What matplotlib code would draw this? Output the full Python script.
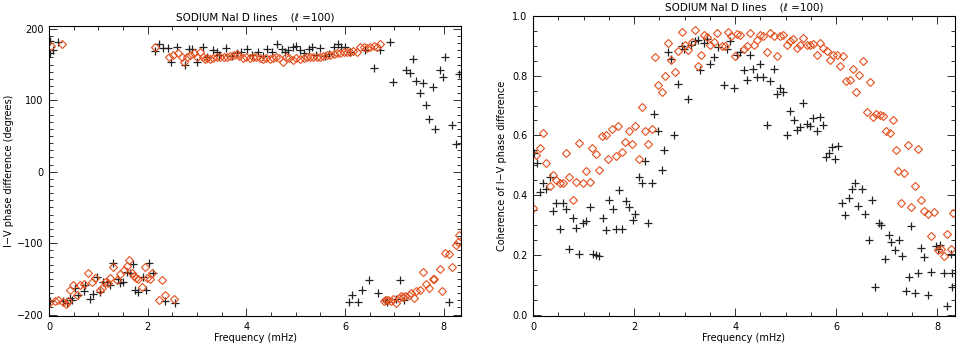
import numpy as np
import matplotlib.pyplot as plt
from matplotlib.ticker import MultipleLocator

# I-V phase difference (degrees), crosses
lp_cross_f = [0.02, 0.03, 0.09, 0.19,
              0.02, 0.29, 0.36, 0.43, 0.46, 0.53, 0.59, 0.70, 0.73, 0.83, 0.90, 0.97, 1.03, 1.10, 1.18, 1.24,
              1.30, 1.39, 1.44, 1.49, 1.58, 1.64, 1.71, 1.74, 1.81, 1.91, 1.97, 2.03, 2.10, 2.35, 2.56,
              2.15, 2.22, 2.31, 2.42, 2.47, 2.60, 2.76, 2.83, 2.89, 3.00, 3.13, 3.21, 3.32, 3.40, 3.45, 3.59,
              3.71, 3.81, 3.89, 4.01, 4.11, 4.23, 4.33, 4.42, 4.52, 4.63, 4.72, 4.79, 4.85, 4.94, 5.01, 5.09,
              5.17, 5.26, 5.33, 5.42, 5.50, 5.60, 5.67, 5.77, 5.85, 5.92, 6.00, 6.11, 6.41, 6.59, 6.71,
              6.92, 6.98, 7.24, 7.31, 7.37, 7.44, 7.51, 7.58, 7.65, 7.71, 7.78, 7.83, 7.92, 7.99, 8.03, 8.17,
              8.24, 8.30,
              6.07, 6.14, 6.27, 6.34, 6.48, 6.66, 6.80, 6.86, 7.04, 7.12, 7.19, 8.10]
lp_cross_deg = [183, 166, 171, 181,
                -181, -181, -184, -177, -180, -163, -172, -167, -158, -178, -171, -147, -169, -154, -155, -159,
                -128, -150, -156, -155, -140, -142, -129, -165, -169, -147, -165, -128, -142, -181, -184,
                169, 179, 173, 173, 153, 175, 150, 172, 172, 153, 175, 161, 170, 168, 164, 173,
                162, 166, 167, 172, 164, 168, 162, 172, 168, 179, 172, 167, 170, 175, 176, 170,
                166, 172, 174, 164, 173, 162, 165, 175, 179, 175, 175, 167, 170, 145, 170,
                181, 125, 142, 138, 158, 127, 110, 124, 93, 74, 119, 60, 142, 133, 160, 65,
                39, 137,
                -183, -173, -183, -166, -151, -170, -180, -183, -178, -151, -180, -183]

# I-V phase difference (degrees), diamonds
lp_diam_f = [0.05, 0.26,
             0.00, 0.12, 0.19, 0.29, 0.34, 0.39, 0.43, 0.49, 0.56, 0.63, 0.70, 0.80, 0.87, 0.93, 1.03, 1.07,
             1.14, 1.20, 1.24, 1.30, 1.37, 1.43, 1.51, 1.58, 1.63, 1.68, 1.72, 1.76, 1.81, 1.88, 1.95, 1.99,
             2.05, 2.08, 2.22, 2.29, 2.35, 2.54,
             2.15, 2.44, 2.52, 2.62, 2.69, 2.74, 2.79, 2.86, 2.93, 3.00, 3.06, 3.12, 3.16, 3.21, 3.27, 3.33,
             3.40, 3.47, 3.54, 3.60, 3.67, 3.74, 3.81, 3.86, 3.93, 4.00, 4.08, 4.13, 4.20, 4.27, 4.33, 4.40,
             4.47, 4.54, 4.60, 4.67, 4.75, 4.81, 4.87, 4.94, 5.01, 5.09, 5.16, 5.23, 5.29, 5.36, 5.43, 5.50,
             5.56, 5.63, 5.70, 5.77, 5.84, 5.90, 5.97, 6.04, 6.11, 6.17, 6.24, 6.31, 6.38, 6.44, 6.51, 6.58,
             6.65, 6.71,
             6.78, 6.84, 6.88, 6.93, 6.98, 7.04, 7.09, 7.13, 7.17, 7.22, 7.29, 7.34, 7.39, 7.44, 7.51, 7.58,
             7.65, 7.71, 7.78, 7.81, 7.92, 7.97, 8.03, 8.10, 8.17, 8.24, 8.28, 8.31]
lp_diam_deg = [176, 179,
               -184, -181, -179, -183, -185, -181, -165, -158, -172, -158, -157, -142, -154, -149, -165, -163,
               -154, -156, -149, -133, -151, -143, -137, -132, -124, -142, -146, -149, -150, -161, -133, -149,
               -150, -142, -180, -152, -172, -178,
               175, 160, 164, 166, 160, 154, 160, 164, 166, 160, 168, 161, 158, 159, 158, 159,
               160, 161, 160, 161, 162, 164, 165, 162, 159, 160, 159, 160, 161, 159, 158, 159,
               158, 159, 160, 159, 154, 160, 159, 156, 159, 158, 159, 160, 161, 160, 161, 161,
               162, 164, 164, 165, 166, 166, 167, 167, 167, 169, 168, 174, 175, 173, 175, 176,
               175, 179,
               -181, -180, -179, -181, -178, -184, -177, -174, -175, -174, -172, -170, -177, -167, -165, -140,
               -157, -163, -150, -150, -136, -167, -114, -115, -133, -102, -99, -88]

# coherence, crosses
rc_cross_f = [0.01, 0.07, 0.13, 0.20, 0.26, 0.33, 0.39, 0.46, 0.53, 0.59, 0.66, 0.72, 0.79, 0.85, 0.92, 0.98,
              1.05, 1.12, 1.18, 1.25, 1.31, 1.38, 1.44, 1.51, 1.58, 1.64, 1.71, 1.77, 1.84, 1.90, 1.97, 2.02,
              2.10, 2.15, 2.22, 2.28, 2.35, 2.40, 2.48, 2.55, 2.60, 2.68, 2.74, 2.79, 2.87, 2.94, 2.99, 3.07,
              3.12, 3.20, 3.27, 3.31, 3.38, 3.45, 3.51, 3.58, 3.66, 3.77, 3.84, 3.90, 3.97, 4.03, 4.10, 4.17,
              4.23, 4.30, 4.36, 4.43, 4.49, 4.56, 4.63, 4.69, 4.76, 4.82, 4.89, 4.95, 5.02, 5.09, 5.16, 5.22,
              5.29, 5.35, 5.42, 5.48, 5.55, 5.61, 5.68, 5.74, 5.79, 5.85, 5.91, 5.97, 6.04, 6.12, 6.17, 6.25,
              6.31, 6.37, 6.44, 6.51, 6.57, 6.64, 6.70, 6.77, 6.84, 6.89, 6.97, 7.04, 7.09, 7.17, 7.24, 7.30,
              7.38, 7.43, 7.48, 7.56, 7.62, 7.68, 7.74, 7.82, 7.87, 7.97, 8.01, 8.05, 8.13, 8.20, 8.28, 8.30,
              8.30]
rc_cross_coh = [0.542, 0.508, 0.411, 0.441, 0.419, 0.459, 0.347, 0.374, 0.285, 0.374, 0.355, 0.221, 0.322,
                0.291, 0.204, 0.307, 0.314, 0.359, 0.204, 0.198, 0.195, 0.322, 0.282, 0.383, 0.355, 0.288,
                0.417, 0.288, 0.381, 0.361, 0.318, 0.338, 0.462, 0.441, 0.515, 0.305, 0.439, 0.672, 0.616,
                0.484, 0.551, 0.878, 0.856, 0.602, 0.773, 0.901, 0.890, 0.722, 0.904, 0.915, 0.918, 0.820,
                0.908, 0.923, 0.840, 0.863, 0.896, 0.770, 0.890, 0.915, 0.760, 0.871, 0.878, 0.818, 0.786,
                0.871, 0.822, 0.796, 0.840, 0.796, 0.635, 0.781, 0.822, 0.739, 0.760, 0.744, 0.602, 0.683,
                0.652, 0.618, 0.627, 0.710, 0.639, 0.632, 0.658, 0.616, 0.661, 0.635, 0.527, 0.540, 0.560,
                0.522, 0.565, 0.374, 0.333, 0.389, 0.422, 0.439, 0.363, 0.422, 0.336, 0.249, 0.385, 0.092,
                0.307, 0.299, 0.187, 0.266, 0.243, 0.217, 0.251, 0.195, 0.078, 0.125, 0.296, 0.072, 0.139,
                0.224, 0.193, 0.067, 0.142, 0.229, 0.220, 0.232, 0.139, 0.030, 0.204, 0.139, 0.092]

# coherence, diamonds
rc_diam_f = [0.00, 0.05, 0.13, 0.20, 0.26, 0.33, 0.39, 0.46, 0.53, 0.59, 0.66, 0.72, 0.79, 0.85, 0.92, 0.98,
             1.05, 1.12, 1.17, 1.25, 1.31, 1.37, 1.44, 1.49, 1.56, 1.64, 1.69, 1.76, 1.82, 1.89, 1.96, 2.02,
             2.09, 2.15, 2.22, 2.28, 2.35, 2.42, 2.48, 2.55, 2.61, 2.68, 2.74, 2.81, 2.87, 2.94, 3.01, 3.07,
             3.14, 3.20, 3.27, 3.33, 3.38, 3.45, 3.51, 3.58, 3.64, 3.73, 3.79, 3.86, 3.92, 3.99, 4.04, 4.10,
             4.17, 4.24, 4.30, 4.37, 4.43, 4.50, 4.56, 4.63, 4.69, 4.76, 4.82, 4.89, 4.95, 5.02, 5.09, 5.15,
             5.22, 5.29, 5.35, 5.42, 5.48, 5.55, 5.61, 5.68, 5.74, 5.81, 5.88, 5.94, 6.01, 6.07, 6.14, 6.20,
             6.27, 6.33, 6.40, 6.46, 6.53, 6.60, 6.66, 6.73, 6.79, 6.86, 6.92, 6.99, 7.06, 7.12, 7.19, 7.22,
             7.28, 7.35, 7.42, 7.48, 7.55, 7.61, 7.68, 7.74, 7.81, 7.87, 7.94, 8.01, 8.07, 8.14, 8.20, 8.27,
             8.32]
rc_diam_coh = [0.356, 0.534, 0.557, 0.609, 0.506, 0.430, 0.467, 0.452, 0.439, 0.441, 0.540, 0.462, 0.385,
               0.445, 0.574, 0.439, 0.482, 0.445, 0.557, 0.538, 0.484, 0.598, 0.602, 0.520, 0.623, 0.531,
               0.632, 0.545, 0.579, 0.616, 0.571, 0.632, 0.520, 0.695, 0.616, 0.571, 0.620, 0.863, 0.770,
               0.747, 0.798, 0.908, 0.851, 0.814, 0.882, 0.946, 0.904, 0.885, 0.912, 0.952, 0.831, 0.871,
               0.938, 0.930, 0.904, 0.912, 0.944, 0.898, 0.900, 0.946, 0.932, 0.867, 0.941, 0.938, 0.890,
               0.901, 0.943, 0.904, 0.921, 0.938, 0.932, 0.880, 0.943, 0.932, 0.865, 0.934, 0.938, 0.904,
               0.915, 0.923, 0.893, 0.904, 0.926, 0.904, 0.904, 0.907, 0.871, 0.910, 0.893, 0.882, 0.854,
               0.871, 0.871, 0.831, 0.865, 0.781, 0.786, 0.822, 0.747, 0.803, 0.848, 0.677, 0.778, 0.661,
               0.672, 0.669, 0.666, 0.616, 0.609, 0.650, 0.551, 0.482, 0.372, 0.473, 0.568, 0.361, 0.430,
               0.553, 0.383, 0.346, 0.336, 0.263, 0.344, 0.215, 0.218, 0.196, 0.271, 0.220, 0.340]

title = "SODIUM NaI D lines    (\u2113 =100)"
cross_col = "#222222"
diam_col = "#e4501e"

plt.rcParams["font.family"] = "DejaVu Sans"
plt.rcParams["font.size"] = 7
plt.rcParams["axes.linewidth"] = 0.8

fig = plt.figure(figsize=(9.57, 3.49), dpi=100)
ax1 = fig.add_axes([49 / 957, 1 - 316 / 349, 412 / 957, 290 / 349])
ax2 = fig.add_axes([533 / 957, 1 - 316 / 349, 422 / 957, 300 / 349])

for ax, xc, yc, xd, yd in [(ax1, lp_cross_f, lp_cross_deg, lp_diam_f, lp_diam_deg),
                           (ax2, rc_cross_f, rc_cross_coh, rc_diam_f, rc_diam_coh)]:
    ax.plot(xc, yc, ls="none", marker="+", ms=6, mew=0.9, color=cross_col)
    ax.plot(xd, yd, ls="none", marker="D", ms=4, mew=0.8, mfc="none", mec=diam_col)
    ax.set_xlim(0, 8.35)
    ax.xaxis.set_major_locator(MultipleLocator(2))
    ax.xaxis.set_minor_locator(MultipleLocator(0.5))
    ax.tick_params(which="both", direction="in", top=True, right=True, width=0.7, color="#333333")
    ax.tick_params(which="major", length=6, pad=4)
    ax.tick_params(which="minor", length=3)
    ax.set_xlabel("Frequency (mHz)", labelpad=1)
    ax.set_title(title, pad=4, fontsize=7.5)

ax1.set_ylim(-202, 204)
ax1.yaxis.set_major_locator(MultipleLocator(100))
ax1.yaxis.set_minor_locator(MultipleLocator(10))
ax1.set_ylabel("I\u2212V phase difference (degrees)", labelpad=2)

ax2.set_ylim(-0.005, 1.0)
ax2.yaxis.set_major_locator(MultipleLocator(0.2))
ax2.yaxis.set_minor_locator(MultipleLocator(0.05))
ax2.yaxis.set_major_formatter(plt.FuncFormatter(lambda v, p: f"{v:.1f}"))
ax2.set_ylabel("Coherence of I\u2212V phase difference", labelpad=4)

fig.savefig("out.png", dpi=100)
